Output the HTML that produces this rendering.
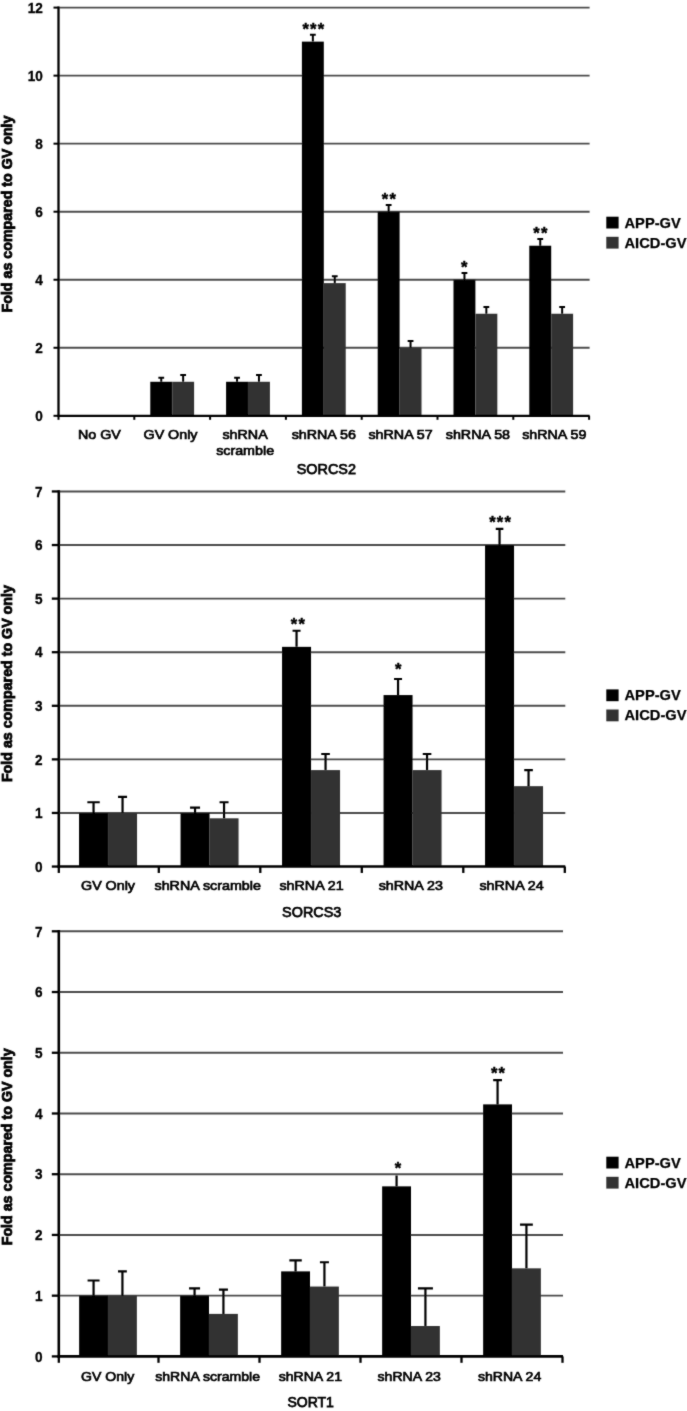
<!DOCTYPE html>
<html><head><meta charset="utf-8"><title>Figure</title>
<style>
html,body{margin:0;padding:0;background:#fff}
svg{display:block;font-family:"Liberation Sans", Arial, Helvetica, sans-serif;fill:#000}
svg text{fill:#000}
svg .cl{stroke:#000;stroke-width:0.75px}
svg .cb{stroke:#000;stroke-width:0.7px}
svg .st{stroke:#000;stroke-width:0.45px;stroke-linejoin:round}
svg .lg{stroke:#000;stroke-width:0.25px}
svg .yl{stroke:#000;stroke-width:0.35px}
svg .yt{stroke:#000;stroke-width:0.8px}
</style></head><body>
<svg width="687" height="1411" viewBox="0 0 687 1411">
<rect width="687" height="1411" fill="#fff"/>
<defs><filter id="soft" x="0" y="0" width="687" height="1411" filterUnits="userSpaceOnUse"><feConvolveMatrix order="3" kernelMatrix="1 4 1 4 30 4 1 4 1" divisor="50" edgeMode="duplicate" preserveAlpha="false"/></filter></defs>
<g filter="url(#soft)">
<line x1="58.5" x2="589.6" y1="347.77" y2="347.77" stroke="#4c4c4c" stroke-width="1.9"/>
<line x1="58.5" x2="589.6" y1="279.73" y2="279.73" stroke="#4c4c4c" stroke-width="1.9"/>
<line x1="58.5" x2="589.6" y1="211.70" y2="211.70" stroke="#4c4c4c" stroke-width="1.9"/>
<line x1="58.5" x2="589.6" y1="143.67" y2="143.67" stroke="#4c4c4c" stroke-width="1.9"/>
<line x1="58.5" x2="589.6" y1="75.63" y2="75.63" stroke="#4c4c4c" stroke-width="1.9"/>
<line x1="58.5" x2="589.6" y1="7.60" y2="7.60" stroke="#4c4c4c" stroke-width="1.9"/>
<rect x="150.29" y="381.78" width="21.91" height="34.02" fill="#000"/>
<path d="M161.25 381.78V377.70M158.35 377.70h5.80" stroke="#000" stroke-width="2.0" fill="none"/>
<rect x="172.20" y="381.78" width="21.91" height="34.02" fill="#303030"/>
<path d="M183.15 381.78V374.98M180.25 374.98h5.80" stroke="#000" stroke-width="2.0" fill="none"/>
<rect x="226.09" y="381.78" width="21.91" height="34.02" fill="#000"/>
<path d="M237.05 381.78V377.70M234.15 377.70h5.80" stroke="#000" stroke-width="2.0" fill="none"/>
<rect x="248.00" y="381.78" width="21.91" height="34.02" fill="#303030"/>
<path d="M258.95 381.78V374.98M256.05 374.98h5.80" stroke="#000" stroke-width="2.0" fill="none"/>
<rect x="301.89" y="41.62" width="21.91" height="374.18" fill="#000"/>
<path d="M312.85 41.62V34.81M309.95 34.81h5.80" stroke="#000" stroke-width="2.0" fill="none"/>
<rect x="323.80" y="283.13" width="21.91" height="132.67" fill="#303030"/>
<path d="M334.75 283.13V276.33M331.85 276.33h5.80" stroke="#000" stroke-width="2.0" fill="none"/>
<rect x="377.69" y="211.70" width="21.91" height="204.10" fill="#000"/>
<path d="M388.65 211.70V204.90M385.75 204.90h5.80" stroke="#000" stroke-width="2.0" fill="none"/>
<rect x="399.60" y="347.77" width="21.91" height="68.03" fill="#303030"/>
<path d="M410.55 347.77V340.96M407.65 340.96h5.80" stroke="#000" stroke-width="2.0" fill="none"/>
<rect x="453.49" y="279.73" width="21.91" height="136.07" fill="#000"/>
<path d="M464.45 279.73V272.93M461.55 272.93h5.80" stroke="#000" stroke-width="2.0" fill="none"/>
<rect x="475.40" y="313.75" width="21.91" height="102.05" fill="#303030"/>
<path d="M486.35 313.75V306.95M483.45 306.95h5.80" stroke="#000" stroke-width="2.0" fill="none"/>
<rect x="529.29" y="245.72" width="21.91" height="170.08" fill="#000"/>
<path d="M540.25 245.72V238.91M537.35 238.91h5.80" stroke="#000" stroke-width="2.0" fill="none"/>
<rect x="551.20" y="313.75" width="21.91" height="102.05" fill="#303030"/>
<path d="M562.15 313.75V306.95M559.25 306.95h5.80" stroke="#000" stroke-width="2.0" fill="none"/>
<text x="313.9" y="34.7" font-size="16.5" class="st" font-weight="bold" text-anchor="middle" letter-spacing="1.2">***</text>
<text x="389.4" y="205.0" font-size="16.5" class="st" font-weight="bold" text-anchor="middle" letter-spacing="1.2">**</text>
<text x="464.7" y="272.5" font-size="16.5" class="st" font-weight="bold" text-anchor="middle" letter-spacing="1.2">*</text>
<text x="540.9" y="238.6" font-size="16.5" class="st" font-weight="bold" text-anchor="middle" letter-spacing="1.2">**</text>
<line x1="58.5" x2="58.5" y1="6.45" y2="416.95" stroke="#000" stroke-width="2.3"/>
<line x1="57.4" x2="589.6" y1="415.80" y2="415.80" stroke="#000" stroke-width="2.3"/>
<line x1="53.5" x2="58.5" y1="415.80" y2="415.80" stroke="#000" stroke-width="2.0"/>
<text transform="translate(42.7,420.7) scale(0.875,1)" class="yl" font-size="15.5" font-weight="bold" text-anchor="end">0</text>
<line x1="53.5" x2="58.5" y1="347.77" y2="347.77" stroke="#000" stroke-width="2.0"/>
<text transform="translate(42.7,352.7) scale(0.875,1)" class="yl" font-size="15.5" font-weight="bold" text-anchor="end">2</text>
<line x1="53.5" x2="58.5" y1="279.73" y2="279.73" stroke="#000" stroke-width="2.0"/>
<text transform="translate(42.7,284.6) scale(0.875,1)" class="yl" font-size="15.5" font-weight="bold" text-anchor="end">4</text>
<line x1="53.5" x2="58.5" y1="211.70" y2="211.70" stroke="#000" stroke-width="2.0"/>
<text transform="translate(42.7,216.6) scale(0.875,1)" class="yl" font-size="15.5" font-weight="bold" text-anchor="end">6</text>
<line x1="53.5" x2="58.5" y1="143.67" y2="143.67" stroke="#000" stroke-width="2.0"/>
<text transform="translate(42.7,148.6) scale(0.875,1)" class="yl" font-size="15.5" font-weight="bold" text-anchor="end">8</text>
<line x1="53.5" x2="58.5" y1="75.63" y2="75.63" stroke="#000" stroke-width="2.0"/>
<text transform="translate(42.7,80.5) scale(0.875,1)" class="yl" font-size="15.5" font-weight="bold" text-anchor="end">10</text>
<line x1="53.5" x2="58.5" y1="7.60" y2="7.60" stroke="#000" stroke-width="2.0"/>
<text transform="translate(42.7,12.5) scale(0.875,1)" class="yl" font-size="15.5" font-weight="bold" text-anchor="end">12</text>
<line x1="58.5" x2="58.5" y1="415.80" y2="419.80" stroke="#000" stroke-width="2.0"/>
<line x1="134.3" x2="134.3" y1="415.80" y2="419.80" stroke="#000" stroke-width="2.0"/>
<line x1="210.1" x2="210.1" y1="415.80" y2="419.80" stroke="#000" stroke-width="2.0"/>
<line x1="285.9" x2="285.9" y1="415.80" y2="419.80" stroke="#000" stroke-width="2.0"/>
<line x1="361.7" x2="361.7" y1="415.80" y2="419.80" stroke="#000" stroke-width="2.0"/>
<line x1="437.5" x2="437.5" y1="415.80" y2="419.80" stroke="#000" stroke-width="2.0"/>
<line x1="513.3" x2="513.3" y1="415.80" y2="419.80" stroke="#000" stroke-width="2.0"/>
<line x1="589.1" x2="589.1" y1="415.80" y2="419.80" stroke="#000" stroke-width="2.0"/>
<text class="cb" transform="translate(99.4,438.7) scale(1.052,1)" font-size="13.6" text-anchor="middle">No GV</text>
<text class="cb" transform="translate(170.5,438.7) scale(1.052,1)" font-size="13.6" text-anchor="middle">GV Only</text>
<text class="cb" transform="translate(245.1,438.7) scale(1.052,1)" font-size="13.6" text-anchor="middle">shRNA</text>
<text class="cb" transform="translate(245.1,455.3) scale(1.052,1)" font-size="13.6" text-anchor="middle">scramble</text>
<text class="cb" transform="translate(323.8,438.7) scale(1.052,1)" font-size="13.6" text-anchor="middle">shRNA 56</text>
<text class="cb" transform="translate(400.6,438.7) scale(1.052,1)" font-size="13.6" text-anchor="middle">shRNA 57</text>
<text class="cb" transform="translate(477.9,438.7) scale(1.052,1)" font-size="13.6" text-anchor="middle">shRNA 58</text>
<text class="cb" transform="translate(554.3,438.7) scale(1.052,1)" font-size="13.6" text-anchor="middle">shRNA 59</text>
<text class="cl" x="326.3" y="473.9" font-size="14.4" text-anchor="middle">SORCS2</text>
<text transform="translate(12.1,214) rotate(-90)" class="yt" font-size="14.8" font-weight="bold" text-anchor="middle" textLength="197" lengthAdjust="spacingAndGlyphs">Fold as compared to GV only</text>
<rect x="606.3" y="216.7" width="12.3" height="11.8" fill="#000"/>
<rect x="606.3" y="236.79999999999998" width="12.3" height="11.8" fill="#303030"/>
<text x="624.5" y="227.6" class="lg" font-size="14.7" font-weight="bold">APP-GV</text>
<text x="624.5" y="247.6" class="lg" font-size="14.7" font-weight="bold">AICD-GV</text>
<line x1="58.8" x2="565.3" y1="812.96" y2="812.96" stroke="#4c4c4c" stroke-width="1.9"/>
<line x1="58.8" x2="565.3" y1="759.38" y2="759.38" stroke="#4c4c4c" stroke-width="1.9"/>
<line x1="58.8" x2="565.3" y1="705.79" y2="705.79" stroke="#4c4c4c" stroke-width="1.9"/>
<line x1="58.8" x2="565.3" y1="652.21" y2="652.21" stroke="#4c4c4c" stroke-width="1.9"/>
<line x1="58.8" x2="565.3" y1="598.62" y2="598.62" stroke="#4c4c4c" stroke-width="1.9"/>
<line x1="58.8" x2="565.3" y1="545.04" y2="545.04" stroke="#4c4c4c" stroke-width="1.9"/>
<line x1="58.8" x2="565.3" y1="491.45" y2="491.45" stroke="#4c4c4c" stroke-width="1.9"/>
<rect x="79.05" y="812.96" width="29.00" height="53.59" fill="#000"/>
<path d="M93.55 812.96V802.25M87.35 802.25h12.40" stroke="#000" stroke-width="2.2" fill="none"/>
<rect x="108.05" y="812.96" width="29.00" height="53.59" fill="#303030"/>
<path d="M122.55 812.96V796.89M118.05 796.89h9.00" stroke="#000" stroke-width="2.2" fill="none"/>
<rect x="180.55" y="812.96" width="29.00" height="53.59" fill="#000"/>
<path d="M195.05 812.96V807.61M190.05 807.61h10.00" stroke="#000" stroke-width="2.2" fill="none"/>
<rect x="209.55" y="818.32" width="29.00" height="48.23" fill="#303030"/>
<path d="M224.05 818.32V802.25M219.55 802.25h9.00" stroke="#000" stroke-width="2.2" fill="none"/>
<rect x="282.05" y="646.85" width="29.00" height="219.70" fill="#000"/>
<path d="M296.55 646.85V630.77M292.55 630.77h8.00" stroke="#000" stroke-width="2.2" fill="none"/>
<rect x="311.05" y="770.10" width="29.00" height="96.45" fill="#303030"/>
<path d="M325.55 770.10V754.02M321.25 754.02h8.60" stroke="#000" stroke-width="2.2" fill="none"/>
<rect x="383.55" y="695.08" width="29.00" height="171.47" fill="#000"/>
<path d="M398.05 695.08V679.00M394.05 679.00h8.00" stroke="#000" stroke-width="2.2" fill="none"/>
<rect x="412.55" y="770.10" width="29.00" height="96.45" fill="#303030"/>
<path d="M427.05 770.10V754.02M422.75 754.02h8.60" stroke="#000" stroke-width="2.2" fill="none"/>
<rect x="485.05" y="545.04" width="29.00" height="321.51" fill="#000"/>
<path d="M499.55 545.04V528.96M495.75 528.96h7.60" stroke="#000" stroke-width="2.2" fill="none"/>
<rect x="514.05" y="786.17" width="29.00" height="80.38" fill="#303030"/>
<path d="M528.55 786.17V770.10M524.25 770.10h8.60" stroke="#000" stroke-width="2.2" fill="none"/>
<text x="298.4" y="630.2" font-size="16.5" class="st" font-weight="bold" text-anchor="middle" letter-spacing="1.2">**</text>
<text x="398.9" y="675.3" font-size="16.5" class="st" font-weight="bold" text-anchor="middle" letter-spacing="1.2">*</text>
<text x="500.6" y="527.9" font-size="16.5" class="st" font-weight="bold" text-anchor="middle" letter-spacing="1.2">***</text>
<line x1="58.8" x2="58.8" y1="490.15" y2="867.85" stroke="#000" stroke-width="2.6"/>
<line x1="57.5" x2="565.3" y1="866.55" y2="866.55" stroke="#000" stroke-width="2.6"/>
<line x1="51.8" x2="58.8" y1="866.55" y2="866.55" stroke="#000" stroke-width="2.3"/>
<text transform="translate(42.5,871.8) scale(0.875,1)" class="yl" font-size="15.5" font-weight="bold" text-anchor="end">0</text>
<line x1="51.8" x2="58.8" y1="812.96" y2="812.96" stroke="#000" stroke-width="2.3"/>
<text transform="translate(42.5,818.2) scale(0.875,1)" class="yl" font-size="15.5" font-weight="bold" text-anchor="end">1</text>
<line x1="51.8" x2="58.8" y1="759.38" y2="759.38" stroke="#000" stroke-width="2.3"/>
<text transform="translate(42.5,764.6) scale(0.875,1)" class="yl" font-size="15.5" font-weight="bold" text-anchor="end">2</text>
<line x1="51.8" x2="58.8" y1="705.79" y2="705.79" stroke="#000" stroke-width="2.3"/>
<text transform="translate(42.5,711.0) scale(0.875,1)" class="yl" font-size="15.5" font-weight="bold" text-anchor="end">3</text>
<line x1="51.8" x2="58.8" y1="652.21" y2="652.21" stroke="#000" stroke-width="2.3"/>
<text transform="translate(42.5,657.4) scale(0.875,1)" class="yl" font-size="15.5" font-weight="bold" text-anchor="end">4</text>
<line x1="51.8" x2="58.8" y1="598.62" y2="598.62" stroke="#000" stroke-width="2.3"/>
<text transform="translate(42.5,603.8) scale(0.875,1)" class="yl" font-size="15.5" font-weight="bold" text-anchor="end">5</text>
<line x1="51.8" x2="58.8" y1="545.04" y2="545.04" stroke="#000" stroke-width="2.3"/>
<text transform="translate(42.5,550.2) scale(0.875,1)" class="yl" font-size="15.5" font-weight="bold" text-anchor="end">6</text>
<line x1="51.8" x2="58.8" y1="491.45" y2="491.45" stroke="#000" stroke-width="2.3"/>
<text transform="translate(42.5,496.6) scale(0.875,1)" class="yl" font-size="15.5" font-weight="bold" text-anchor="end">7</text>
<line x1="58.8" x2="58.8" y1="866.55" y2="872.95" stroke="#000" stroke-width="2.3"/>
<line x1="158.8" x2="158.8" y1="866.55" y2="872.95" stroke="#000" stroke-width="2.3"/>
<line x1="260.3" x2="260.3" y1="866.55" y2="872.95" stroke="#000" stroke-width="2.3"/>
<line x1="361.8" x2="361.8" y1="866.55" y2="872.95" stroke="#000" stroke-width="2.3"/>
<line x1="463.3" x2="463.3" y1="866.55" y2="872.95" stroke="#000" stroke-width="2.3"/>
<line x1="564.8" x2="564.8" y1="866.55" y2="872.95" stroke="#000" stroke-width="2.3"/>
<text class="cb" transform="translate(108.0,889.8) scale(1.052,1)" font-size="13.6" text-anchor="middle">GV Only</text>
<text class="cb" transform="translate(207.7,889.8) scale(1.052,1)" font-size="13.6" text-anchor="middle">shRNA scramble</text>
<text class="cb" transform="translate(311.6,889.8) scale(1.052,1)" font-size="13.6" text-anchor="middle">shRNA 21</text>
<text class="cb" transform="translate(410.8,889.8) scale(1.052,1)" font-size="13.6" text-anchor="middle">shRNA 23</text>
<text class="cb" transform="translate(511.6,889.8) scale(1.052,1)" font-size="13.6" text-anchor="middle">shRNA 24</text>
<text class="cl" x="311.7" y="917.0" font-size="14.4" text-anchor="middle">SORCS3</text>
<text transform="translate(12.1,683.6) rotate(-90)" class="yt" font-size="14.8" font-weight="bold" text-anchor="middle" textLength="197" lengthAdjust="spacingAndGlyphs">Fold as compared to GV only</text>
<rect x="606.3" y="689.4" width="12.3" height="11.8" fill="#000"/>
<rect x="606.3" y="709.5" width="12.3" height="11.8" fill="#303030"/>
<text x="624.5" y="700.3" class="lg" font-size="14.7" font-weight="bold">APP-GV</text>
<text x="624.5" y="720.3" class="lg" font-size="14.7" font-weight="bold">AICD-GV</text>
<line x1="58.8" x2="563.0" y1="1295.67" y2="1295.67" stroke="#4c4c4c" stroke-width="1.9"/>
<line x1="58.8" x2="563.0" y1="1234.94" y2="1234.94" stroke="#4c4c4c" stroke-width="1.9"/>
<line x1="58.8" x2="563.0" y1="1174.21" y2="1174.21" stroke="#4c4c4c" stroke-width="1.9"/>
<line x1="58.8" x2="563.0" y1="1113.49" y2="1113.49" stroke="#4c4c4c" stroke-width="1.9"/>
<line x1="58.8" x2="563.0" y1="1052.76" y2="1052.76" stroke="#4c4c4c" stroke-width="1.9"/>
<line x1="58.8" x2="563.0" y1="992.03" y2="992.03" stroke="#4c4c4c" stroke-width="1.9"/>
<line x1="58.8" x2="563.0" y1="931.30" y2="931.30" stroke="#4c4c4c" stroke-width="1.9"/>
<rect x="79.14" y="1295.67" width="28.86" height="60.73" fill="#000"/>
<path d="M93.57 1295.67V1280.49M87.57 1280.49h12.00" stroke="#000" stroke-width="2.2" fill="none"/>
<rect x="108.00" y="1295.67" width="28.86" height="60.73" fill="#303030"/>
<path d="M122.43 1295.67V1271.38M118.03 1271.38h8.80" stroke="#000" stroke-width="2.2" fill="none"/>
<rect x="180.14" y="1295.67" width="28.86" height="60.73" fill="#000"/>
<path d="M194.57 1295.67V1288.38M189.07 1288.38h11.00" stroke="#000" stroke-width="2.2" fill="none"/>
<rect x="209.00" y="1313.89" width="28.86" height="42.51" fill="#303030"/>
<path d="M223.43 1313.89V1289.60M218.93 1289.60h9.00" stroke="#000" stroke-width="2.2" fill="none"/>
<rect x="281.14" y="1271.38" width="28.86" height="85.02" fill="#000"/>
<path d="M295.57 1271.38V1260.45M289.37 1260.45h12.40" stroke="#000" stroke-width="2.2" fill="none"/>
<rect x="310.00" y="1286.56" width="28.86" height="69.84" fill="#303030"/>
<path d="M324.43 1286.56V1262.27M319.93 1262.27h9.00" stroke="#000" stroke-width="2.2" fill="none"/>
<rect x="382.14" y="1186.36" width="28.86" height="170.04" fill="#000"/>
<path d="M396.57 1186.36V1175.43M396.57 1175.43h0.00" stroke="#000" stroke-width="2.2" fill="none"/>
<rect x="411.00" y="1326.04" width="28.86" height="30.36" fill="#303030"/>
<path d="M425.43 1326.04V1288.38M417.93 1288.38h15.00" stroke="#000" stroke-width="2.2" fill="none"/>
<rect x="483.14" y="1104.38" width="28.86" height="252.02" fill="#000"/>
<path d="M497.57 1104.38V1080.09M493.17 1080.09h8.80" stroke="#000" stroke-width="2.2" fill="none"/>
<rect x="512.00" y="1268.34" width="28.86" height="88.06" fill="#303030"/>
<path d="M526.43 1268.34V1224.62M520.03 1224.62h12.80" stroke="#000" stroke-width="2.2" fill="none"/>
<text x="398.5" y="1174.3" font-size="16.5" class="st" font-weight="bold" text-anchor="middle" letter-spacing="1.2">*</text>
<text x="498.6" y="1079.4" font-size="16.5" class="st" font-weight="bold" text-anchor="middle" letter-spacing="1.2">**</text>
<line x1="58.8" x2="58.8" y1="930.00" y2="1357.70" stroke="#000" stroke-width="2.6"/>
<line x1="57.5" x2="563.0" y1="1356.40" y2="1356.40" stroke="#000" stroke-width="2.6"/>
<line x1="51.8" x2="58.8" y1="1356.40" y2="1356.40" stroke="#000" stroke-width="2.3"/>
<text transform="translate(42.5,1361.6) scale(0.875,1)" class="yl" font-size="15.5" font-weight="bold" text-anchor="end">0</text>
<line x1="51.8" x2="58.8" y1="1295.67" y2="1295.67" stroke="#000" stroke-width="2.3"/>
<text transform="translate(42.5,1300.9) scale(0.875,1)" class="yl" font-size="15.5" font-weight="bold" text-anchor="end">1</text>
<line x1="51.8" x2="58.8" y1="1234.94" y2="1234.94" stroke="#000" stroke-width="2.3"/>
<text transform="translate(42.5,1240.1) scale(0.875,1)" class="yl" font-size="15.5" font-weight="bold" text-anchor="end">2</text>
<line x1="51.8" x2="58.8" y1="1174.21" y2="1174.21" stroke="#000" stroke-width="2.3"/>
<text transform="translate(42.5,1179.4) scale(0.875,1)" class="yl" font-size="15.5" font-weight="bold" text-anchor="end">3</text>
<line x1="51.8" x2="58.8" y1="1113.49" y2="1113.49" stroke="#000" stroke-width="2.3"/>
<text transform="translate(42.5,1118.7) scale(0.875,1)" class="yl" font-size="15.5" font-weight="bold" text-anchor="end">4</text>
<line x1="51.8" x2="58.8" y1="1052.76" y2="1052.76" stroke="#000" stroke-width="2.3"/>
<text transform="translate(42.5,1058.0) scale(0.875,1)" class="yl" font-size="15.5" font-weight="bold" text-anchor="end">5</text>
<line x1="51.8" x2="58.8" y1="992.03" y2="992.03" stroke="#000" stroke-width="2.3"/>
<text transform="translate(42.5,997.2) scale(0.875,1)" class="yl" font-size="15.5" font-weight="bold" text-anchor="end">6</text>
<line x1="51.8" x2="58.8" y1="931.30" y2="931.30" stroke="#000" stroke-width="2.3"/>
<text transform="translate(42.5,936.5) scale(0.875,1)" class="yl" font-size="15.5" font-weight="bold" text-anchor="end">7</text>
<line x1="58.8" x2="58.8" y1="1356.40" y2="1362.80" stroke="#000" stroke-width="2.3"/>
<line x1="158.5" x2="158.5" y1="1356.40" y2="1362.80" stroke="#000" stroke-width="2.3"/>
<line x1="259.5" x2="259.5" y1="1356.40" y2="1362.80" stroke="#000" stroke-width="2.3"/>
<line x1="360.5" x2="360.5" y1="1356.40" y2="1362.80" stroke="#000" stroke-width="2.3"/>
<line x1="461.5" x2="461.5" y1="1356.40" y2="1362.80" stroke="#000" stroke-width="2.3"/>
<line x1="562.5" x2="562.5" y1="1356.40" y2="1362.80" stroke="#000" stroke-width="2.3"/>
<text class="cb" transform="translate(107.6,1380.7) scale(1.035,1)" font-size="13.6" text-anchor="middle">GV Only</text>
<text class="cb" transform="translate(207.6,1380.7) scale(1.035,1)" font-size="13.6" text-anchor="middle">shRNA scramble</text>
<text class="cb" transform="translate(310.3,1380.7) scale(1.035,1)" font-size="13.6" text-anchor="middle">shRNA 21</text>
<text class="cb" transform="translate(409.2,1380.7) scale(1.035,1)" font-size="13.6" text-anchor="middle">shRNA 23</text>
<text class="cb" transform="translate(509.6,1380.7) scale(1.035,1)" font-size="13.6" text-anchor="middle">shRNA 24</text>
<text class="cl" x="310.7" y="1407.0" font-size="14.0" text-anchor="middle">SORT1</text>
<text transform="translate(12.1,1146.8) rotate(-90)" class="yt" font-size="14.8" font-weight="bold" text-anchor="middle" textLength="197" lengthAdjust="spacingAndGlyphs">Fold as compared to GV only</text>
<rect x="606.3" y="1156.7" width="12.3" height="11.8" fill="#000"/>
<rect x="606.3" y="1176.8" width="12.3" height="11.8" fill="#303030"/>
<text x="624.5" y="1167.6000000000001" class="lg" font-size="14.7" font-weight="bold">APP-GV</text>
<text x="624.5" y="1187.6000000000001" class="lg" font-size="14.7" font-weight="bold">AICD-GV</text>
</g>
</svg>
</body></html>
